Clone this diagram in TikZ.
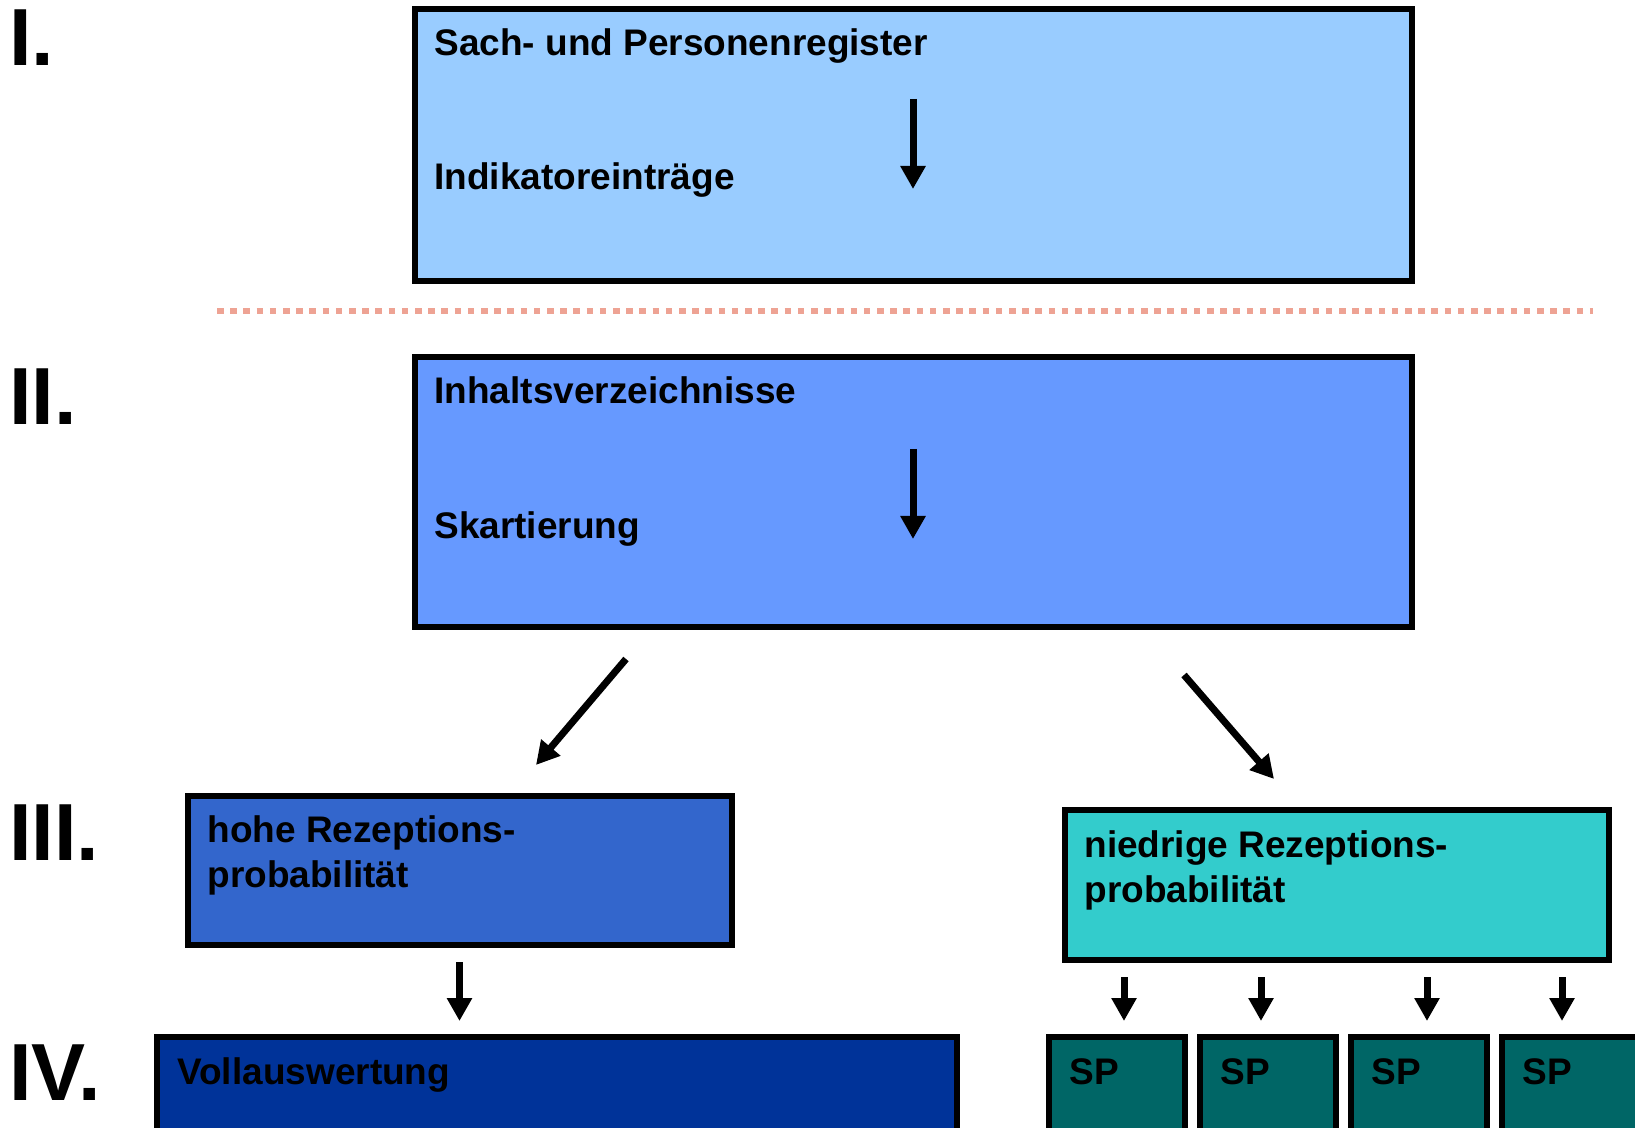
\documentclass[tikz,border=0pt]{standalone}
\usepackage{fontspec}
\setmainfont{Liberation Sans}
\usepackage{xcolor}
\usetikzlibrary{arrows.meta}

\definecolor{regblau}{HTML}{99CCFF}
\definecolor{inhaltblau}{HTML}{6699FF}
\definecolor{hochblau}{HTML}{3366CC}
\definecolor{vollblau}{HTML}{003399}
\definecolor{niedrigtuerkis}{HTML}{33CCCC}
\definecolor{sptuerkis}{HTML}{006666}
\definecolor{trennlachs}{HTML}{EEA394}

\tikzset{
  kasten/.style={draw=black, line width=3pt, inner sep=0pt, outer sep=0pt, anchor=north west},
  beschr/.style={font=\bfseries\fontsize{18.5pt}{22.5pt}\selectfont, anchor=base west, inner sep=0pt, align=left},
  stufe/.style={font=\bfseries\fontsize{40.5pt}{44pt}\selectfont, anchor=base west, inner sep=0pt},
  pfeil/.style={-{Triangle[width=12pt, length=11.5pt]}, line width=3.5pt},
}

\begin{document}
\begin{tikzpicture}[x=0.5pt, y=-0.5pt]
      \useasboundingbox (0,0) rectangle (1635,1128);
      \clip (0,0) rectangle (1635,1128);
      % stufen
      \node[stufe] (s1) at (9,66) {I.};
      \node[stufe] (s2) at (9,425) {II.};
      \node[stufe] (s3) at (9,860) {III.};
      \node[stufe] (s4) at (9,1100) {IV.};
      % I. register
      \node[kasten, fill=regblau, minimum width=498.5pt, minimum height=136pt] (register) at (415,9) {};
      \node[beschr] (tsach) at (434,56) {Sach- und Personenregister};
      \node[beschr] (tindik) at (434,190) {Indikatoreinträge};
      \coordinate (r1) at (913,99);
      \coordinate (r2) at (913,189);
      \draw[pfeil] (r1) -- (r2);
      % trennlinie
      \coordinate (l1) at (217,311);
      \coordinate (l2) at (1593,311);
      \draw[trennlachs, line width=3pt, dash pattern=on 3.3pt off 3.3pt] (l1) -- (l2);
      % II. inhaltsverzeichnisse
      \node[kasten, fill=inhaltblau, minimum width=498.5pt, minimum height=135pt] (inhalt) at (415,357) {};
      \node[beschr] (tinhalt) at (434,404) {Inhaltsverzeichnisse};
      \node[beschr] (tskart) at (434,539) {Skartierung};
      \coordinate (i1) at (913,449);
      \coordinate (i2) at (913,539);
      \draw[pfeil] (i1) -- (i2);
      % verzweigung
      \coordinate (d1) at (626,659);
      \coordinate (d2) at (536,765);
      \coordinate (d3) at (1184,675);
      \coordinate (d4) at (1274,779);
      \draw[pfeil] (d1) -- (d2);
      \draw[pfeil] (d3) -- (d4);
      % III. rezeptionsprobabilitaet
      \node[kasten, fill=hochblau, minimum width=272pt, minimum height=74.5pt] (hoch) at (188,796) {};
      \node[beschr] (thoch) at (207,887) {hohe Rezeptions-\\probabilität};
      \node[kasten, fill=niedrigtuerkis, minimum width=272pt, minimum height=75pt] (niedrig) at (1065,810) {};
      \node[beschr] (tniedrig) at (1084,902) {niedrige Rezeptions-\\probabilität};
      % IV. auswertung
      \coordinate (h1) at (459.5,962);
      \coordinate (h2) at (459.5,1021);
      \draw[pfeil] (h1) -- (h2);
      \node[kasten, fill=vollblau, minimum width=400pt, minimum height=55pt] (voll) at (157,1037) {};
      \node[beschr] (tvoll) at (177,1084) {Vollauswertung};
      \node[kasten, fill=sptuerkis, minimum width=68pt, minimum height=55pt] (sp1) at (1049,1037) {};
      \node[kasten, fill=sptuerkis, minimum width=68pt, minimum height=55pt] (sp2) at (1200,1037) {};
      \node[kasten, fill=sptuerkis, minimum width=68pt, minimum height=55pt] (sp3) at (1351,1037) {};
      \node[kasten, fill=sptuerkis, minimum width=68pt, minimum height=55pt] (sp4) at (1502,1037) {};
      \node[beschr] (tsp1) at (1069,1084) {SP};
      \node[beschr] (tsp2) at (1220,1084) {SP};
      \node[beschr] (tsp3) at (1371,1084) {SP};
      \node[beschr] (tsp4) at (1522,1084) {SP};
      \coordinate (n1) at (1124,977);
      \coordinate (n2) at (1124,1021);
      \coordinate (n3) at (1261,977);
      \coordinate (n4) at (1261,1021);
      \coordinate (n5) at (1427,977);
      \coordinate (n6) at (1427,1021);
      \coordinate (n7) at (1562,977);
      \coordinate (n8) at (1562,1021);
      \draw[pfeil] (n1) -- (n2);
      \draw[pfeil] (n3) -- (n4);
      \draw[pfeil] (n5) -- (n6);
      \draw[pfeil] (n7) -- (n8);
    \end{tikzpicture}
\end{document}
